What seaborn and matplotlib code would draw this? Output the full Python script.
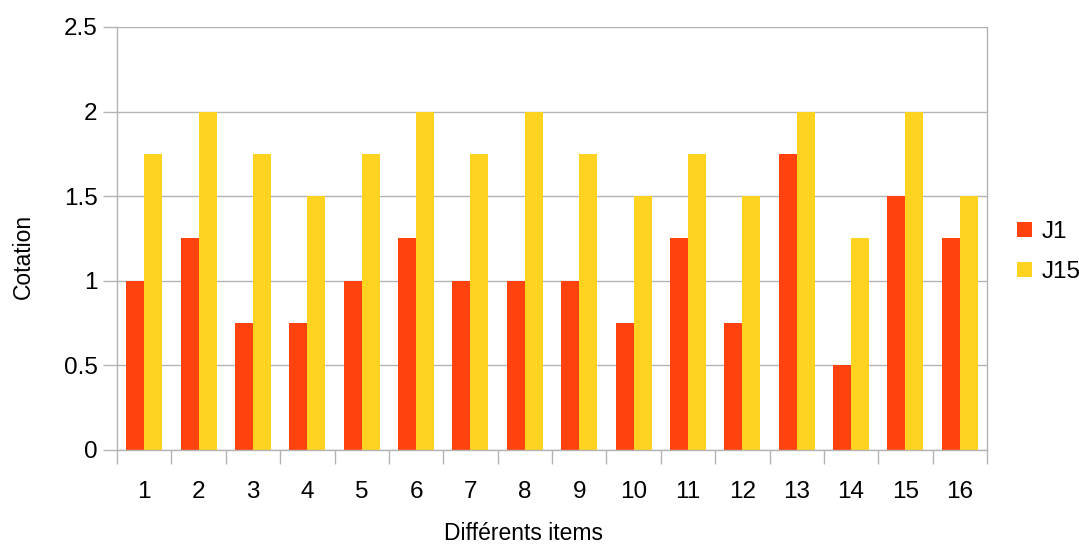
import numpy as np
import pandas as pd
import matplotlib
matplotlib.use("Agg")
import matplotlib.pyplot as plt
import seaborn as sns
from matplotlib.ticker import FixedLocator

items = [str(i) for i in range(1, 17)]
j1 = [1, 1.25, 0.75, 0.75, 1, 1.25, 1, 1, 1, 0.75, 1.25, 0.75, 1.75, 0.5, 1.5, 1.25]
j15 = [1.75, 2, 1.75, 1.5, 1.75, 2, 1.75, 2, 1.75, 1.5, 1.75, 1.5, 2, 1.25, 2, 1.5]
series = ["J1", "J15"]
colors = ["#FF420E", "#FFD320"]

df = pd.DataFrame({
    "item": items * 2,
    "value": j1 + j15,
    "serie": ["J1"] * len(items) + ["J15"] * len(items),
})

sns.set_style("white")
plt.rcParams['font.family'] = ['Liberation Sans', 'DejaVu Sans']
plt.rcParams['text.color'] = 'black'
plt.rcParams['axes.labelcolor'] = 'black'
plt.rcParams['xtick.color'] = 'black'
plt.rcParams['ytick.color'] = 'black'

fig = plt.figure(figsize=(10.79, 5.46), dpi=100)
ax = fig.add_axes([117/1079, 1 - 450/546, (987-117)/1079, (450-27)/546])

sns.barplot(data=df, x="item", y="value", hue="serie", palette=colors,
            width=0.66, ax=ax, saturation=1, legend=True)
for p in ax.patches:
    p.set_linewidth(0)

ax.set_xlim(-0.5, 15.5)
ax.set_ylim(0, 2.5)
ax.set_yticks([0, 0.5, 1, 1.5, 2, 2.5])
ax.set_yticklabels(["0", "0.5", "1", "1.5", "2", "2.5"])
ax.yaxis.grid(True, color="#b3b3b3", linewidth=1)
ax.set_axisbelow(True)

gc = "#b3b3b3"
for s in ["left", "right", "top", "bottom"]:
    ax.spines[s].set_visible(True)
    ax.spines[s].set_color(gc)
    ax.spines[s].set_linewidth(1)
ax.spines["top"].set_visible(False)

ax.tick_params(axis="y", which="major", length=10, color=gc, width=1,
               labelsize=17.5, pad=4, left=True, labelcolor="black")
ax.tick_params(axis="x", which="major", length=0, labelsize=17.5, pad=22,
               labelcolor="black")
ax.xaxis.set_minor_locator(FixedLocator(np.arange(-0.5, 16, 1)))
ax.tick_params(axis="x", which="minor", length=10, color=gc, width=1, bottom=True)

ax.set_xlabel("Différents items", fontsize=16.5, va="center", color="black")
ax.xaxis.set_label_coords((524-117)/870, (450-534)/423)
ax.set_ylabel("Cotation", fontsize=16.5, va="center", color="black")
ax.yaxis.set_label_coords((23-117)/870, (450-256)/423)

handles, labels = ax.get_legend_handles_labels()
leg = ax.legend(handles, labels, loc="center left",
                bbox_to_anchor=((1017-117)/870, (450-252)/423),
                frameon=False, fontsize=17.5, handlelength=0.6, handleheight=0.6,
                handletextpad=0.4, labelspacing=0.75, borderpad=0, borderaxespad=0)
for t in leg.get_texts():
    t.set_color("black")

fig.savefig("out.png", dpi=100)
